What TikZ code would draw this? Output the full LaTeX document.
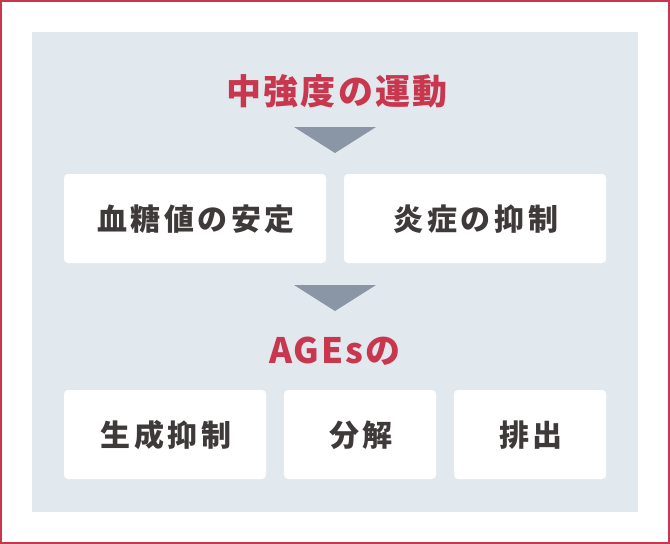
\documentclass[tikz,border=0pt]{standalone}
\usepackage{fontspec}
\newfontfamily\jphead[LetterSpace=6]{Noto Sans CJK JP}
\newfontfamily\jpbox[LetterSpace=12]{Noto Sans CJK JP}
\definecolor{frame}{HTML}{C8374E}
\definecolor{panel}{HTML}{E1E9EF}
\definecolor{arrowgray}{HTML}{8A96A5}
\definecolor{ink}{HTML}{3E3A3A}
\tikzset{
  headtext/.style={text=frame, font=\jphead\bfseries\fontsize{35}{40}\selectfont, inner sep=0pt},
  card/.style={fill=white, rounded corners=4pt, draw=none},
  cardtext/.style={text=ink, font=\jpbox\bfseries\fontsize{30}{34}\selectfont, inner sep=0pt},
}
\begin{document}
\begin{tikzpicture}[x=1pt,y=-1pt]
\useasboundingbox (0,0) rectangle (670,544);
\fill[white] (0,0) rectangle (670,544);
\draw[frame, line width=2pt] (1,1) rectangle (669,543);
\fill[panel] (32,32) rectangle (638,512);
% title
\node[headtext] (title) at (337,91) {中強度の運動};
% triangle 1
\fill[arrowgray] (294,127) -- (376,127) -- (335,153) -- cycle;
% row 1
\fill[card] (64,174) rectangle (326,263);
\node[cardtext] (b1) at (196,219) {血糖値の安定};
\fill[card] (344,174) rectangle (606,263);
\node[cardtext] (b2) at (476,219) {炎症の抑制};
% triangle 2
\fill[arrowgray] (294,285) -- (376,285) -- (335,311) -- cycle;
% AGEs
\node[headtext] (ages) at (335,351) {AGEsの};
% row 2
\fill[card] (64,390) rectangle (266,479);
\node[cardtext] (c1) at (166,435) {生成抑制};
\fill[card] (284,390) rectangle (436,479);
\node[cardtext] (c2) at (361,435) {分解};
\fill[card] (454,390) rectangle (606,479);
\node[cardtext] (c3) at (531,435) {排出};
\end{tikzpicture}
\end{document}
